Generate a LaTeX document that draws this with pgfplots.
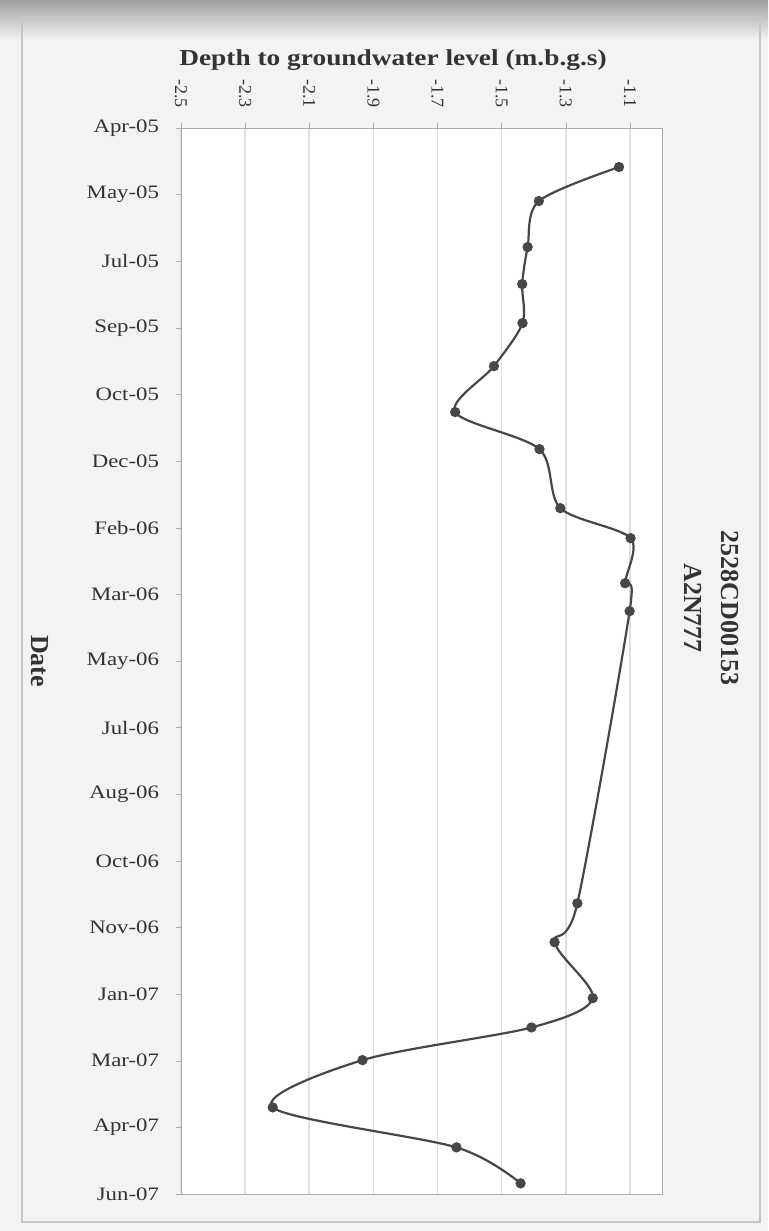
\documentclass[border=0pt]{standalone}
\usepackage{pgfplots}
\pgfplotsset{compat=1.18}
\usepackage{fontspec}
\setmainfont{Liberation Serif}
\newfontfamily\wideserif{Liberation Serif}[FakeStretch=1.2]
\definecolor{bg}{HTML}{F3F3F3}
\definecolor{ink}{HTML}{333333}
\definecolor{lineclr}{HTML}{474747}
\begin{document}
\begin{tikzpicture}
% page background and scanner shadow
\fill[bg] (0,0) rectangle (384pt,-615.5pt);
\shade[top color=gray!75, bottom color=bg] (0,0) rectangle (384pt,-20pt);
\draw[gray!45, line width=0.6pt] (11pt,-8.5pt) rectangle (380pt,-611pt);

\begin{axis}[
    at={(90.5pt,-64pt)}, anchor=north west,
    scale only axis, width=240.5pt, height=533pt,
    xmin=-2.5, xmax=-1.0, ymin=0, ymax=16, y dir=reverse,
    axis background/.style={fill=white},
    axis line style={gray!65},
    xtick={-2.5,-2.3,-2.1,-1.9,-1.7,-1.5,-1.3,-1.1},
    xticklabels={-2.5,-2.3,-2.1,-1.9,-1.7,-1.5,-1.3,-1.1},
    xticklabel pos=upper, xtick pos=upper,
    x tick label style={rotate=-90, anchor=east, text=ink,
        font=\fontsize{9}{10}\selectfont},
    xticklabel shift=4pt,
    ytick={0,...,16},
    yticklabels={Apr-05,May-05,Jul-05,Sep-05,Oct-05,Dec-05,Feb-06,Mar-06,
        May-06,Jul-06,Aug-06,Oct-06,Nov-06,Jan-07,Mar-07,Apr-07,Jun-07},
    ytick pos=left,
    y tick label style={text=ink, font=\wideserif\fontsize{9.5}{11}\selectfont},
    yticklabel shift=5pt,
    tick align=outside, major tick length=2.5pt,
    tick style={gray!65},
    xmajorgrids, grid style={gray!25, line width=0.8pt},
]
\addplot[smooth, color=lineclr, line width=1.1pt, mark=*, mark size=2pt,
    mark options={fill=lineclr}] coordinates {
    (-1.134,0.586) (-1.384,1.096) (-1.419,1.787) (-1.436,2.342)
    (-1.435,2.928) (-1.524,3.574) (-1.645,4.264) (-1.382,4.820)
    (-1.317,5.706) (-1.098,6.156) (-1.115,6.832) (-1.101,7.252)
    (-1.264,11.637) (-1.335,12.220) (-1.216,13.060) (-1.407,13.500)
    (-1.934,13.990) (-2.214,14.700) (-1.641,15.300) (-1.441,15.840)
};
\end{axis}

\node[text=ink, font=\wideserif\bfseries\fontsize{11.4}{13}\selectfont]
    at (196.5pt,-30pt) {Depth to groundwater level (m.b.g.s)};
\node[text=ink, rotate=-90, font=\bfseries\fontsize{13}{15}\selectfont]
    at (20pt,-330.5pt) {Date};
\node[text=ink, rotate=-90, align=center,
    font=\bfseries\fontsize{13}{18.5}\selectfont]
    at (355.75pt,-304pt) {2528CD00153\\A2N777};
\end{tikzpicture}
\end{document}
